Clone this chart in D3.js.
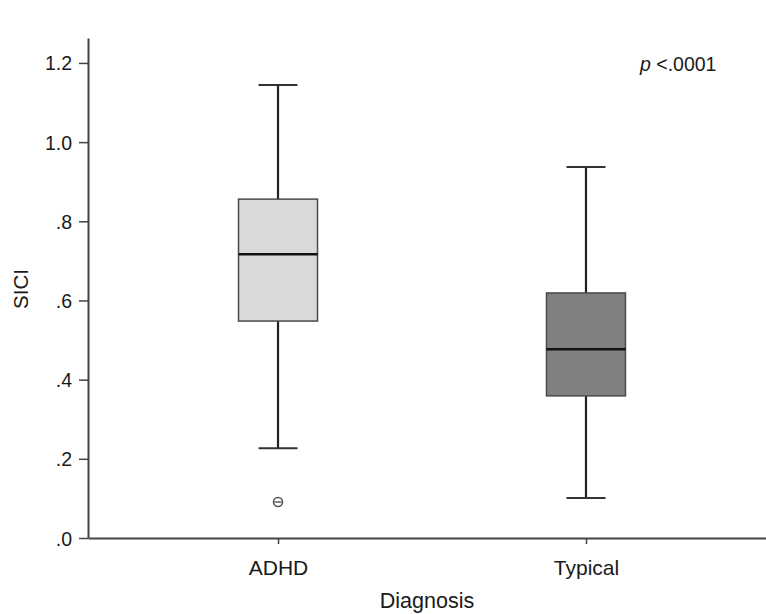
<!DOCTYPE html>
<html>
<head>
<meta charset="utf-8">
<script src="https://cdn.jsdelivr.net/npm/d3@7"></script>
<style>
  body { margin: 0; background: #fff; }
  text { font-family: "Liberation Sans", Arial, sans-serif; fill: #1a1a1a; }
</style>
</head>
<body>
<script>
// data
var categories = ["ADHD", "Typical"];
var whiskerLow = [0.227, 0.101];
var q1 = [0.548, 0.359];
var median = [0.717, 0.477];
var q3 = [0.856, 0.619];
var whiskerHigh = [1.144, 0.937];
var outliers = [[0.091], []];
var fills = ["#d9d9d9", "#808080"];
var yTicks = [0, 0.2, 0.4, 0.6, 0.8, 1.0, 1.2];
var yTickLabels = [".0", ".2", ".4", ".6", ".8", "1.0", "1.2"];

var width = 766, height = 614;
var boxW = 79, capW = 39;

var svg = d3.select("body").append("svg")
  .attr("width", width)
  .attr("height", height);

var y = d3.scaleLinear().domain([0, 1.263]).range([538, 38]);
var x = d3.scalePoint().domain(categories).range([88, 776]).padding(0.617);

// y axis
var yAxis = svg.append("g")
  .attr("transform", "translate(88,0)")
  .call(d3.axisLeft(y).tickValues(yTicks)
    .tickFormat(function (d, i) { return yTickLabels[i]; })
    .tickSize(9).tickSizeOuter(0));
yAxis.select(".domain").attr("stroke", "#444").attr("stroke-width", 2);
yAxis.selectAll(".tick line").attr("stroke", "#444").attr("stroke-width", 1.5);
yAxis.selectAll(".tick text")
  .attr("font-size", "19.5px").attr("x", -16).attr("dy", "0.36em");

// x axis
var xAxis = svg.append("g")
  .attr("transform", "translate(0,538)")
  .call(d3.axisBottom(x).tickSize(6).tickSizeOuter(0));
xAxis.select(".domain").attr("stroke", "#444").attr("stroke-width", 2);
xAxis.selectAll(".tick line").attr("stroke", "#444").attr("stroke-width", 1.5);
xAxis.selectAll(".tick text").attr("font-size", "21px").attr("y", 37).attr("dy", null);

// boxes
var data = categories.map(function (c, i) {
  return { cat: c, lo: whiskerLow[i], q1: q1[i], med: median[i], q3: q3[i], hi: whiskerHigh[i], out: outliers[i], fill: fills[i] };
});

var g = svg.selectAll("g.box").data(data).enter().append("g").attr("class", "box");

// whisker stems
g.append("line")
  .attr("x1", function (d) { return x(d.cat); })
  .attr("x2", function (d) { return x(d.cat); })
  .attr("y1", function (d) { return y(d.lo); })
  .attr("y2", function (d) { return y(d.hi); })
  .attr("stroke", "#222").attr("stroke-width", 2.2);

// caps
g.selectAll("line.cap")
  .data(function (d) { return [d.lo, d.hi].map(function (v) { return { cat: d.cat, v: v }; }); })
  .enter().append("line").attr("class", "cap")
  .attr("x1", function (d) { return x(d.cat) - capW / 2; })
  .attr("x2", function (d) { return x(d.cat) + capW / 2; })
  .attr("y1", function (d) { return y(d.v); })
  .attr("y2", function (d) { return y(d.v); })
  .attr("stroke", "#333").attr("stroke-width", 2);

g.append("rect")
  .attr("x", function (d) { return x(d.cat) - boxW / 2; })
  .attr("width", boxW)
  .attr("y", function (d) { return y(d.q3); })
  .attr("height", function (d) { return y(d.q1) - y(d.q3); })
  .attr("fill", function (d) { return d.fill; })
  .attr("stroke", "#4a4a4a").attr("stroke-width", 1.5);

g.append("line")
  .attr("x1", function (d) { return x(d.cat) - boxW / 2; })
  .attr("x2", function (d) { return x(d.cat) + boxW / 2; })
  .attr("y1", function (d) { return y(d.med); })
  .attr("y2", function (d) { return y(d.med); })
  .attr("stroke", "#111").attr("stroke-width", 2.5);

// outliers
g.selectAll("g.out")
  .data(function (d) { return d.out.map(function (v) { return { cat: d.cat, v: v }; }); })
  .enter().append("g").attr("class", "out")
  .attr("transform", function (d) { return "translate(" + x(d.cat) + "," + y(d.v) + ")"; })
  .each(function () {
    var o = d3.select(this);
    o.append("circle").attr("r", 4.5).attr("fill", "none").attr("stroke", "#555").attr("stroke-width", 1.6);
    o.append("line").attr("x1", -3.5).attr("x2", 3.5).attr("stroke", "#555").attr("stroke-width", 1.4);
  });

// labels
svg.append("text")
  .attr("transform", "translate(28,289) rotate(-90)")
  .attr("text-anchor", "middle")
  .attr("font-size", "20.5px")
  .text("SICI");

svg.append("text")
  .attr("x", 427).attr("y", 608)
  .attr("text-anchor", "middle")
  .attr("font-size", "21.5px")
  .text("Diagnosis");

var p = svg.append("text")
  .attr("x", 640).attr("y", 71)
  .attr("font-size", "19.5px");
p.append("tspan").attr("font-style", "italic").text("p");
p.append("tspan").text(" <.0001");
</script>
</body>
</html>
